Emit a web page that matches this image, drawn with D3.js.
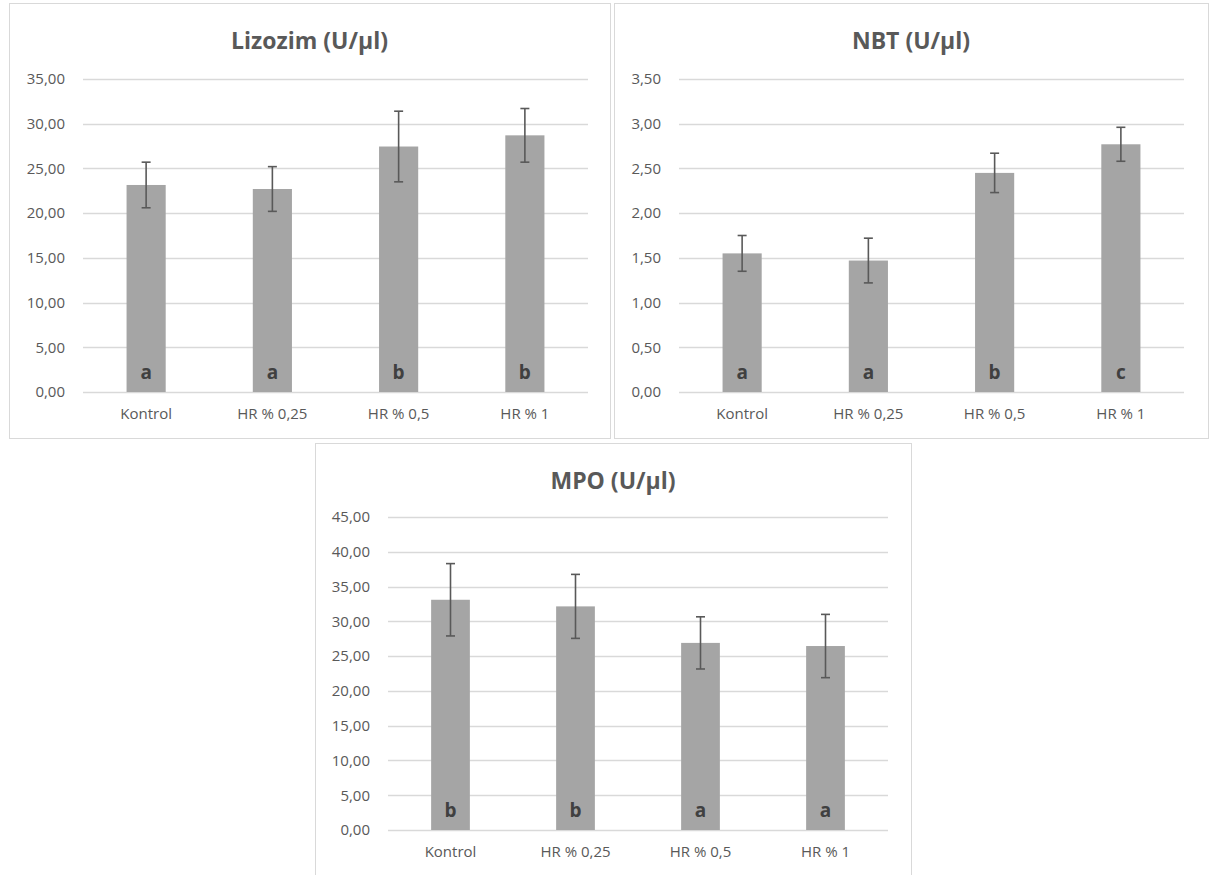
<!DOCTYPE html>
<html>
<head>
<meta charset="utf-8">
<script src="https://cdn.jsdelivr.net/npm/d3@7"></script>
<style>
  body { margin: 0; background: #fff; }
  svg { display: block; font-family: "Open Sans", "Noto Sans", sans-serif; }
</style>
</head>
<body>
<svg id="chart" width="1214" height="875"></svg>
<script>
// data
var categories = ["Kontrol", "HR % 0,25", "HR % 0,5", "HR % 1"];

var lizozimMean = [23.15, 22.7, 27.45, 28.7];
var lizozimErr = [2.55, 2.5, 3.95, 3.0];
var lizozimLetters = ["a", "a", "b", "b"];
var lizozimTicks = [0, 5, 10, 15, 20, 25, 30, 35];

var nbtMean = [1.55, 1.47, 2.45, 2.77];
var nbtErr = [0.2, 0.25, 0.22, 0.19];
var nbtLetters = ["a", "a", "b", "c"];
var nbtTicks = [0, 0.5, 1, 1.5, 2, 2.5, 3, 3.5];

var mpoMean = [33.1, 32.15, 26.9, 26.45];
var mpoErr = [5.2, 4.6, 3.75, 4.55];
var mpoLetters = ["b", "b", "a", "a"];
var mpoTicks = [0, 5, 10, 15, 20, 25, 30, 35, 40, 45];

var trLocale = d3.formatLocale({decimal: ",", thousands: ".", grouping: [3], currency: ["", ""]});
var fmt = trLocale.format(".2f");
var font = '"Open Sans", "Noto Sans", sans-serif';

var panels = [
  {title: "Lizozim (U/µl)", mean: lizozimMean, err: lizozimErr, letters: lizozimLetters, ticks: lizozimTicks,
   box: {x: 9, y: 3, w: 601, h: 435}, plot: {x0: 83, x1: 588, y0: 79, y1: 392}},
  {title: "NBT (U/µl)", mean: nbtMean, err: nbtErr, letters: nbtLetters, ticks: nbtTicks,
   box: {x: 614, y: 3, w: 594, h: 435}, plot: {x0: 679, x1: 1184, y0: 79, y1: 392}},
  {title: "MPO (U/µl)", mean: mpoMean, err: mpoErr, letters: mpoLetters, ticks: mpoTicks,
   box: {x: 315, y: 443, w: 596, h: 440}, plot: {x0: 388, x1: 888, y0: 517, y1: 830}}
];

var svg = d3.select("#chart");

panels.forEach(function(p) {
  var g = svg.append("g");

  g.append("rect")
    .attr("x", p.box.x + 0.5).attr("y", p.box.y + 0.5)
    .attr("width", p.box.w).attr("height", p.box.h)
    .attr("fill", "#fff").attr("stroke", "#d9d9d9").attr("stroke-width", 1);

  var x = d3.scaleBand().domain(categories)
    .range([p.plot.x0, p.plot.x1]).paddingInner(0.69).paddingOuter(0.345);
  var y = d3.scaleLinear().domain([0, d3.max(p.ticks)]).range([p.plot.y1, p.plot.y0]);

  // gridlines
  g.append("g").selectAll("line").data(p.ticks).enter().append("line")
    .attr("x1", p.plot.x0).attr("x2", p.plot.x1)
    .attr("y1", function(d) { return Math.round(y(d)) + 0.5; })
    .attr("y2", function(d) { return Math.round(y(d)) + 0.5; })
    .attr("stroke", "#d9d9d9").attr("stroke-width", 1.3);

  // y axis labels
  var yAxis = d3.axisLeft(y).tickValues(p.ticks).tickFormat(fmt).tickSize(0).tickPadding(18);
  var ya = g.append("g").attr("transform", "translate(" + p.plot.x0 + ",0)").call(yAxis);
  ya.attr("font-family", font);
  ya.select(".domain").remove();
  ya.selectAll("text").attr("fill", "#595959").style("font-size", "15px");

  // x axis labels
  var xAxis = d3.axisBottom(x).tickSize(0).tickPadding(16);
  var xa = g.append("g").attr("transform", "translate(0," + p.plot.y1 + ")").call(xAxis);
  xa.attr("font-family", font);
  xa.select(".domain").remove();
  xa.selectAll("text").attr("fill", "#595959").style("font-size", "15px");

  var idx = d3.range(categories.length);

  // bars
  g.append("g").selectAll("rect").data(idx).enter().append("rect")
    .attr("x", function(i) { return x(categories[i]); })
    .attr("width", x.bandwidth())
    .attr("y", function(i) { return y(p.mean[i]); })
    .attr("height", function(i) { return y(0) - y(p.mean[i]); })
    .attr("fill", "#a5a5a5");

  // error bars
  var eb = g.append("g").attr("stroke", "#595959").attr("stroke-width", 1.6);
  idx.forEach(function(i) {
    var cx = x(categories[i]) + x.bandwidth() / 2;
    var top = y(p.mean[i] + p.err[i]), bot = y(p.mean[i] - p.err[i]);
    eb.append("line").attr("x1", cx).attr("x2", cx).attr("y1", top).attr("y2", bot);
    eb.append("line").attr("x1", cx - 4.5).attr("x2", cx + 4.5).attr("y1", top).attr("y2", top);
    eb.append("line").attr("x1", cx - 4.5).attr("x2", cx + 4.5).attr("y1", bot).attr("y2", bot);
  });

  // significance letters
  g.append("g").selectAll("text").data(idx).enter().append("text")
    .attr("x", function(i) { return x(categories[i]) + x.bandwidth() / 2; })
    .attr("y", p.plot.y1 - 13)
    .attr("text-anchor", "middle")
    .attr("fill", "#404040")
    .style("font-size", "19px").style("font-weight", "bold")
    .text(function(i) { return p.letters[i]; });

  // title
  g.append("text")
    .attr("x", (p.box.x + p.box.x + p.box.w) / 2)
    .attr("y", p.box.y + 46)
    .attr("text-anchor", "middle")
    .attr("fill", "#595959")
    .style("font-size", "23px").style("font-weight", "bold")
    .text(p.title);
});
</script>
</body>
</html>
